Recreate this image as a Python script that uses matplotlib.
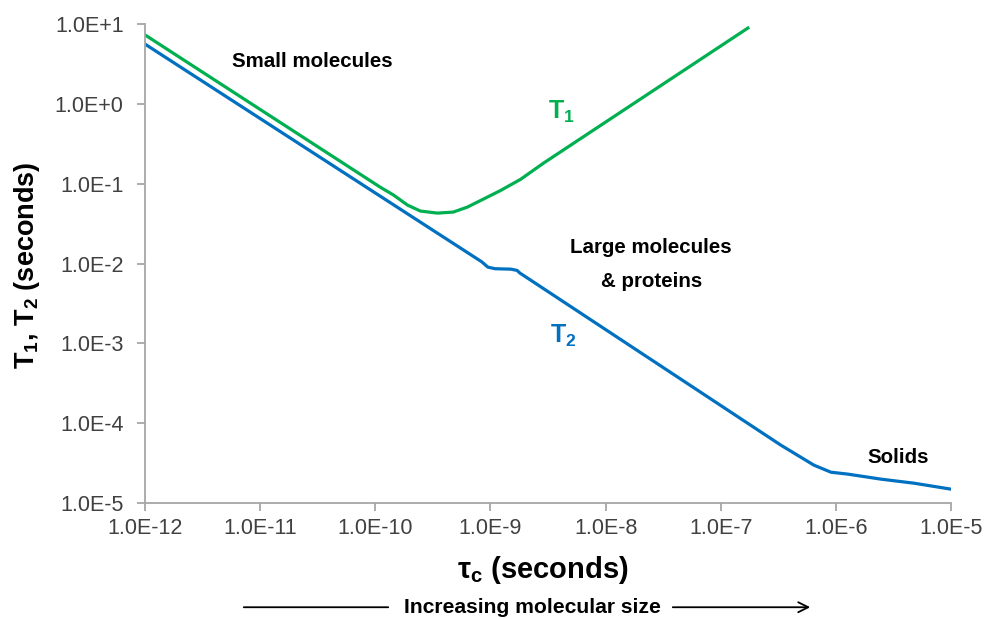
import numpy as np
import matplotlib
matplotlib.use("Agg")
import matplotlib.pyplot as plt
from matplotlib.ticker import FixedLocator, FixedFormatter

plt.rcParams['font.family'] = ['Liberation Sans', 'DejaVu Sans']
plt.rcParams['mathtext.fontset'] = 'custom'
plt.rcParams['mathtext.rm'] = 'Liberation Sans'
plt.rcParams['mathtext.bf'] = 'Liberation Sans:bold'

# values (correlation time vs relaxation times)
tau_t1 = [1.0e-12, 1.1e-10, 1.44e-10, 1.90e-10, 2.46e-10, 3.46e-10, 4.76e-10,
          6.3e-10, 9.4e-10, 1.22e-9, 1.82e-9, 2.89e-9, 1.72e-7]
t1 = [7.3, 0.0906, 0.072, 0.054, 0.0454, 0.0428, 0.0441,
      0.0509, 0.0679, 0.082, 0.113, 0.181, 8.9]

tau_t2 = [1.0e-12, 8.4e-10, 9.5e-10, 1.1e-9, 1.5e-9, 1.7e-9, 1.8e-9,
          3.33e-7, 6.44e-7, 9.06e-7, 1.27e-6, 2.46e-6, 4.77e-6, 1.0e-5]
t2 = [5.6, 0.0105, 0.0090, 0.0086, 0.0085, 0.0082, 0.0076,
      5.3e-5, 2.98e-5, 2.43e-5, 2.30e-5, 1.99e-5, 1.77e-5, 1.49e-5]

xticks = [1e-12, 1e-11, 1e-10, 1e-9, 1e-8, 1e-7, 1e-6, 1e-5]
xtick_labels = ['1.0E-12', '1.0E-11', '1.0E-10', '1.0E-9', '1.0E-8',
                '1.0E-7', '1.0E-6', '1.0E-5']
yticks = [1e-5, 1e-4, 1e-3, 1e-2, 1e-1, 1e0, 1e1]
ytick_labels = ['1.0E-5', '1.0E-4', '1.0E-3', '1.0E-2', '1.0E-1',
                '1.0E+0', '1.0E+1']

green = '#00B050'
blue = '#0070C0'
axis_grey = '#A6A6A6'
tick_grey = '#404040'

fig = plt.figure(figsize=(9.88, 6.19), dpi=100)
ax = fig.add_axes([0.1468, 0.1874, 0.8158, 0.7738])

ax.plot(tau_t1, t1, color=green, lw=2.3, solid_joinstyle='round')
ax.plot(tau_t2, t2, color=blue, lw=2.3, solid_joinstyle='round')

ax.set_xscale('log')
ax.set_yscale('log')
ax.set_xlim(1e-12, 1e-5)
ax.set_ylim(1e-5, 1e1)

ax.xaxis.set_major_locator(FixedLocator(xticks))
ax.xaxis.set_major_formatter(FixedFormatter(xtick_labels))
ax.yaxis.set_major_locator(FixedLocator(yticks))
ax.yaxis.set_major_formatter(FixedFormatter(ytick_labels))
ax.minorticks_off()

for side in ['top', 'right']:
    ax.spines[side].set_visible(False)
for side in ['left', 'bottom']:
    ax.spines[side].set_color(axis_grey)
    ax.spines[side].set_linewidth(1.3)
ax.tick_params(axis='both', which='major', colors=axis_grey, labelcolor=tick_grey,
               labelsize=15.5, length=5.5, width=1.3)
ax.tick_params(axis='x', pad=5)
ax.tick_params(axis='y', pad=10)

# annotations
note = dict(transform=ax.transAxes, ha='center', va='center',
            fontsize=14.8, fontweight='bold')
ax.text(0.207, 0.921, 'Small molecules', **note)
ax.text(0.628, 0.534, 'Large molecules', **note)
ax.text(0.628, 0.463, '& proteins', **note)
ax.text(0.934, 0.096, 'Solids', **note)
ax.text(0.516, 0.816, r'T$_\mathbf{1}$', transform=ax.transAxes, ha='center',
        va='center', fontsize=18, fontweight='bold', color=green)
ax.text(0.519, 0.349, r'T$_\mathbf{2}$', transform=ax.transAxes, ha='center',
        va='center', fontsize=18, fontweight='bold', color=blue)

# axis titles
fig.text(0.549, 0.079, r'τ$_\mathbf{c}$ (seconds)', ha='center', va='center',
         fontsize=21, fontweight='bold')
fig.text(0.027, 0.572, r'T$_\mathbf{1}$, T$_\mathbf{2}$ (seconds)', ha='center',
         va='center', rotation=90, fontsize=19.5, fontweight='bold')

# increasing molecular size arrow
fig.text(0.5385, 0.019, 'Increasing molecular size', ha='center', va='center',
         fontsize=15.2, fontweight='bold')
ax.annotate('', xy=(391 / 988, 0.019), xytext=(241 / 988, 0.019),
            xycoords='figure fraction', textcoords='figure fraction',
            arrowprops=dict(arrowstyle='-', color='black', lw=1.3))
ax.annotate('', xy=(813 / 988, 0.019), xytext=(670 / 988, 0.019),
            xycoords='figure fraction', textcoords='figure fraction',
            arrowprops=dict(arrowstyle='->', color='black', lw=1.3,
                            mutation_scale=18))

fig.savefig('out.png', dpi=100)
